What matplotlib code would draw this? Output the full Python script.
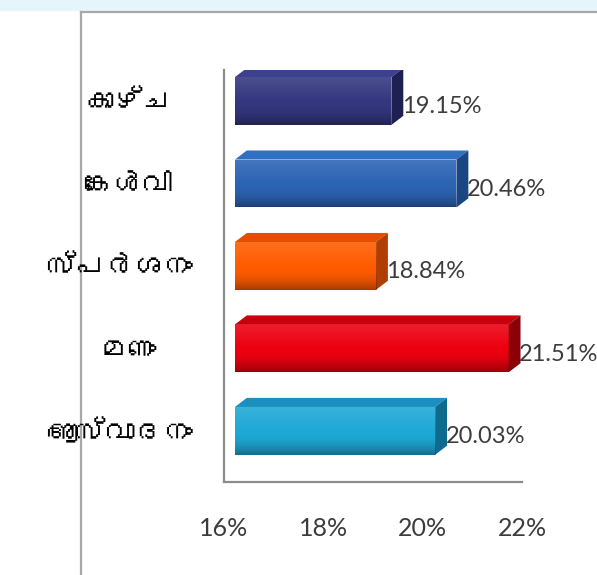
import numpy as np
import matplotlib
matplotlib.use("Agg")
import matplotlib.pyplot as plt
import matplotlib.transforms as mtransforms
from matplotlib import font_manager
from matplotlib.ft2font import FT2Font
from matplotlib.patches import Polygon, Rectangle

# data
senses = ["കാഴ്ച", "കേൾവി", "സ്പർശനം", "മണം", "ആസ്വാദനം"]
percent = [19.15, 20.46, 18.84, 21.51, 20.03]
ticks = [16, 18, 20, 22]
tick_labels = ["16%", "18%", "20%", "22%"]

# front, top, side colours of each bar
front_cols = ["#34377e", "#2c64b4", "#ff5c00", "#ec0010", "#1ea8d6"]
top_cols = ["#3d408e", "#3070c0", "#e44e00", "#c8000e", "#1b8fbe"]
side_cols = ["#1f2052", "#1a4684", "#b03e02", "#8c0008", "#0f6b8e"]


# look for a font that has malayalam glyphs
def find_ml_font():
    seen = set()
    for f in font_manager.fontManager.ttflist:
        if f.fname in seen:
            continue
        seen.add(f.fname)
        try:
            if FT2Font(f.fname).get_char_index(ord("ക")):
                return f.name
        except Exception:
            pass
    return None

ml_font = find_ml_font()
num_font = ["Lato", "DejaVu Sans"]
lab_font = [ml_font, "DejaVu Sans"] if ml_font else ["DejaVu Sans"]

fig = plt.figure(figsize=(5.97, 5.75), dpi=100)
fig.patch.set_facecolor("white")

# background frame of the slide
bg = fig.add_axes([0, 0, 1, 1])
bg.set_xlim(0, 597)
bg.set_ylim(575, 0)
bg.axis("off")
bg.add_patch(Rectangle((0, 0), 597, 11, color="#e4f5fb", lw=0))
bg.plot([81, 597], [12, 12], color="#a8a8a8", lw=1.6)
bg.plot([81, 81], [12, 575], color="#a8a8a8", lw=1.6)

# chart axes
ax = fig.add_axes([224 / 597, (575 - 482) / 575, (522 - 224) / 597, (482 - 70) / 575])
ax.set_xlim(16, 22)
ax.set_ylim(4.62, -0.376)
ax.patch.set_alpha(0)

h = 0.58
ox = 0.22      # shift of the front face
dx, dy = 0.24, 0.11   # depth of the boxes

y = np.arange(len(senses))
bars = ax.barh(y, [p - ticks[0] for p in percent], height=h, left=ticks[0] + ox,
               color=front_cols, lw=0, zorder=3)

# light at the top of the face, darker at the bottom edge
t = np.linspace(0, 1, 100)
shade = np.zeros((100, 1, 4))
shade[:, 0, :3] = np.where(t < 0.5, 1.0, 0.0)[:, None]
shade[:, 0, 3] = np.where(t < 0.5, 0.12 * (1 - t / 0.5), 0.35 * ((t - 0.5) / 0.5) ** 2)

for i, b in enumerate(bars):
    x0 = b.get_x()
    x1 = x0 + b.get_width()
    y0 = b.get_y()
    y1 = y0 + b.get_height()
    im = ax.imshow(shade, extent=(x0, x1, y1, y0), aspect="auto", zorder=4,
                   interpolation="bilinear")
    im.set_clip_path(b)
    top = Polygon([(x0, y0), (x1, y0), (x1 + dx, y0 - dy), (x0 + dx, y0 - dy)],
                  closed=True, color=top_cols[i], lw=0, zorder=3)
    side = Polygon([(x1, y0), (x1 + dx, y0 - dy), (x1 + dx, y1 - dy), (x1, y1)],
                   closed=True, color=side_cols[i], lw=0, zorder=3)
    ax.add_patch(top)
    ax.add_patch(side)
    ax.text(x1 + dx - 0.03, y[i] + 0.07, "%.2f%%" % percent[i], ha="left",
            va="center", fontsize=17, color="#3c3c3c", family=num_font, zorder=5)

for s in ["top", "right"]:
    ax.spines[s].set_visible(False)
for s in ["left", "bottom"]:
    ax.spines[s].set_color("#8c8c8c")
    ax.spines[s].set_linewidth(1.6)

ax.set_xticks(ticks)
ax.set_xticklabels(tick_labels, family=num_font, fontsize=18, color="#3c3c3c")
ax.set_yticks(y)
ax.set_yticklabels(senses, family=lab_font, fontsize=21, color="black",
                   ha="center", fontweight="bold")
ax.tick_params(axis="x", length=0, pad=25)
ax.tick_params(axis="y", length=0, pad=69)

# keep long category names clear of the axis, like the original
fig.canvas.draw()
r = fig.canvas.get_renderer()
for lab in ax.get_yticklabels():
    ext = lab.get_window_extent(r)
    if ext.x1 > 193:
        shift = (ext.x1 - 193) * 72 / fig.dpi
        lab.set_transform(lab.get_transform() + mtransforms.ScaledTranslation(
            -shift / 72, 0, fig.dpi_scale_trans))

fig.savefig("out.png", dpi=100, facecolor="white")
